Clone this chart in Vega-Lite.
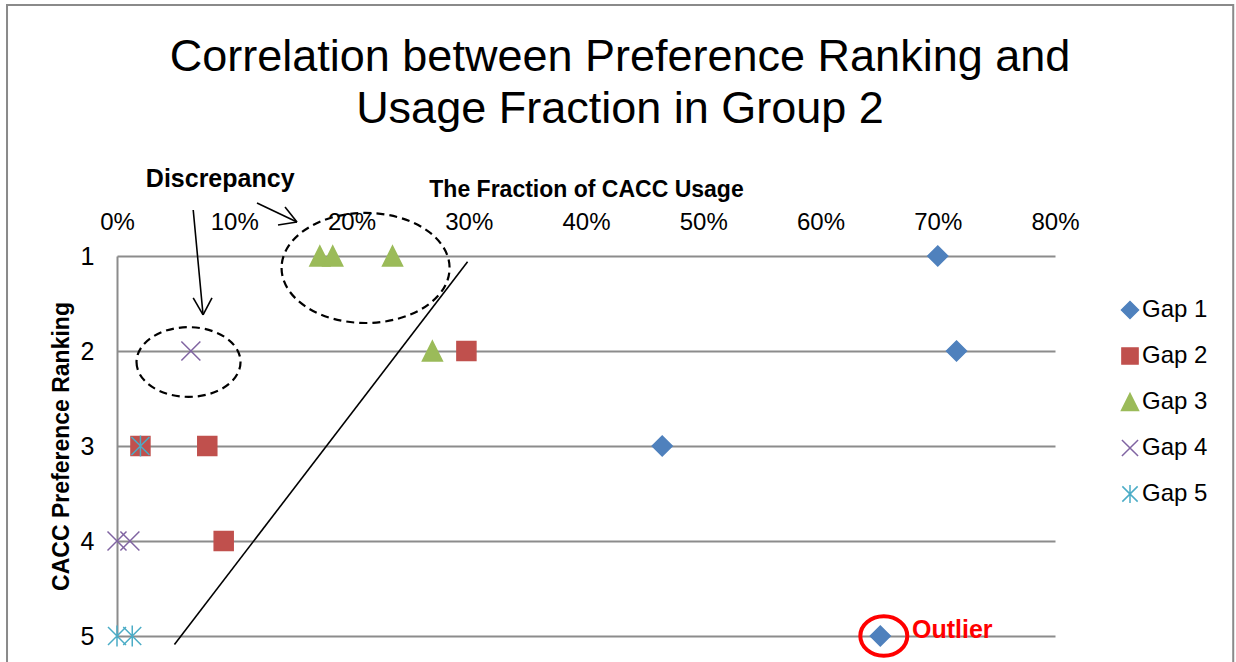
{
  "$schema": "https://vega.github.io/schema/vega-lite/v6.json",
  "width": 938,
  "height": 380,
  "autosize": "none",
  "padding": {"left": 117, "top": 256, "right": 181, "bottom": 26},
  "background": "white",
  "title": {
    "text": ["Correlation between Preference Ranking and", "Usage Fraction in Group 2"],
    "font": "Liberation Sans",
    "fontSize": 45,
    "fontWeight": "normal",
    "color": "black",
    "anchor": "middle",
    "baseline": "bottom",
    "dx": 34,
    "offset": -173,
    "lineHeight": 52
  },
  "config": {
    "view": {"stroke": null},
    "font": "Liberation Sans"
  },
  "datasets": {
    "points": [
      {"gap": "Gap 1", "fraction": 0.70, "rank": 1},
      {"gap": "Gap 1", "fraction": 0.716, "rank": 2},
      {"gap": "Gap 1", "fraction": 0.465, "rank": 3},
      {"gap": "Gap 1", "fraction": 0.651, "rank": 5},
      {"gap": "Gap 2", "fraction": 0.298, "rank": 2},
      {"gap": "Gap 2", "fraction": 0.020, "rank": 3},
      {"gap": "Gap 2", "fraction": 0.077, "rank": 3},
      {"gap": "Gap 2", "fraction": 0.091, "rank": 4},
      {"gap": "Gap 3", "fraction": 0.173, "rank": 1},
      {"gap": "Gap 3", "fraction": 0.184, "rank": 1},
      {"gap": "Gap 3", "fraction": 0.235, "rank": 1},
      {"gap": "Gap 3", "fraction": 0.269, "rank": 2},
      {"gap": "Gap 4", "fraction": 0.063, "rank": 2},
      {"gap": "Gap 4", "fraction": 0.000, "rank": 4},
      {"gap": "Gap 4", "fraction": 0.011, "rank": 4},
      {"gap": "Gap 5", "fraction": 0.020, "rank": 3},
      {"gap": "Gap 5", "fraction": 0.000, "rank": 5},
      {"gap": "Gap 5", "fraction": 0.013, "rank": 5}
    ],
    "frame": [{"x1": -0.0938, "x2": 0.952, "y1": -1.642, "y2": 5.6}],
    "trend": [{"x1": 0.049, "y1": 5.09, "x2": 0.299, "y2": 1.06}],
    "arrows": [
      {"x1": 0.065, "y1": 0.516, "x2": 0.0734, "y2": 1.62},
      {"x1": 0.0734, "y1": 1.62, "x2": 0.065, "y2": 1.44},
      {"x1": 0.0734, "y1": 1.62, "x2": 0.081, "y2": 1.44},
      {"x1": 0.1194, "y1": 0.442, "x2": 0.1535, "y2": 0.642},
      {"x1": 0.1535, "y1": 0.642, "x2": 0.1433, "y2": 0.484},
      {"x1": 0.1535, "y1": 0.642, "x2": 0.1373, "y2": 0.674}
    ],
    "bigEllipse": [{"fraction": 0.212, "rank": 1.126}],
    "smallEllipse": [{"fraction": 0.061, "rank": 2.116}],
    "outlierCircle": [{"fraction": 0.654, "rank": 5.0}],
    "discrepancy": [{"fraction": 0.088, "rank": 0.19, "label": "Discrepancy"}],
    "outlierText": [{"fraction": 0.678, "rank": 4.94, "label": "Outlier"}]
  },
  "layer": [
    {
      "data": {"name": "frame"},
      "mark": {"type": "rect", "fill": null, "stroke": "#8a8a8a", "strokeWidth": 2, "clip": false},
      "encoding": {
        "x": {"field": "x1", "type": "quantitative", "scale": {"domain": [0, 0.8], "nice": false, "zero": false}},
        "x2": {"field": "x2"},
        "y": {"field": "y1", "type": "quantitative", "scale": {"domain": [1, 5], "reverse": true, "nice": false, "zero": false}},
        "y2": {"field": "y2"}
      }
    },
    {
      "data": {"name": "points"},
      "mark": {"type": "point", "filled": true, "opacity": 1, "size": 400, "strokeWidth": 1.5},
      "encoding": {
        "x": {
          "field": "fraction", "type": "quantitative",
          "scale": {"domain": [0, 0.8], "nice": false, "zero": false},
          "axis": {
            "orient": "top", "format": ".0%", "values": [0, 0.1, 0.2, 0.3, 0.4, 0.5, 0.6, 0.7, 0.8],
            "grid": false, "domain": false, "ticks": false, "labelFlush": false,
            "labelFontSize": 24, "labelColor": "black", "labelPadding": 22,
            "title": "The Fraction of CACC Usage", "titleFontSize": 23, "titleFontWeight": "bold",
            "titleColor": "black", "titlePadding": 9
          }
        },
        "y": {
          "field": "rank", "type": "quantitative",
          "scale": {"domain": [1, 5], "reverse": true, "nice": false, "zero": false},
          "axis": {
            "values": [1, 2, 3, 4, 5], "format": "d",
            "grid": true, "gridColor": "#8c8c8c", "gridWidth": 2,
            "domain": true, "domainColor": "#8c8c8c", "domainWidth": 2,
            "ticks": false, "labelFlush": false,
            "labelFontSize": 25, "labelColor": "black", "labelPadding": 23,
            "title": "CACC Preference Ranking", "titleFontSize": 23, "titleFontWeight": "bold",
            "titleColor": "black", "titlePadding": 7
          }
        },
        "shape": {
          "field": "gap", "type": "nominal",
          "scale": {
            "domain": ["Gap 1", "Gap 2", "Gap 3", "Gap 4", "Gap 5"],
            "range": [
              "M0,-1L1,0L0,1L-1,0Z",
              "M-0.95,-0.95L0.95,-0.95L0.95,0.95L-0.95,0.95Z",
              "M0,-1L1,1L-1,1Z",
              "M-0.95,-0.95L0.95,0.95M-0.95,0.95L0.95,-0.95",
              "M-0.9,-0.9L0.9,0.9M-0.9,0.9L0.9,-0.9M0,-1.05L0,1.05"
            ]
          },
          "legend": {
            "orient": "none", "legendX": 1001, "legendY": 42, "title": null, "padding": 0,
            "symbolSize": 289, "symbolStrokeWidth": 1.5, "labelFontSize": 24, "labelColor": "black",
            "rowPadding": 22, "labelOffset": 0
          }
        },
        "fill": {
          "field": "gap", "type": "nominal",
          "scale": {
            "domain": ["Gap 1", "Gap 2", "Gap 3", "Gap 4", "Gap 5"],
            "range": ["#4F81BD", "#C0504D", "#9BBB59", "transparent", "transparent"]
          },
          "legend": {
            "orient": "none", "legendX": 1001, "legendY": 42, "title": null, "padding": 0,
            "symbolSize": 289, "symbolStrokeWidth": 1.5, "labelFontSize": 24, "labelColor": "black",
            "rowPadding": 22, "labelOffset": 0
          }
        },
        "stroke": {
          "field": "gap", "type": "nominal",
          "scale": {
            "domain": ["Gap 1", "Gap 2", "Gap 3", "Gap 4", "Gap 5"],
            "range": ["#4F81BD", "#C0504D", "#9BBB59", "#8064A2", "#4BACC6"]
          },
          "legend": {
            "orient": "none", "legendX": 1001, "legendY": 42, "title": null, "padding": 0,
            "symbolSize": 289, "symbolStrokeWidth": 1.5, "labelFontSize": 24, "labelColor": "black",
            "rowPadding": 22, "labelOffset": 0
          }
        }
      }
    },
    {
      "data": {"name": "trend"},
      "mark": {"type": "rule", "color": "black", "strokeWidth": 1.6},
      "encoding": {
        "x": {"field": "x1", "type": "quantitative"},
        "x2": {"field": "x2"},
        "y": {"field": "y1", "type": "quantitative"},
        "y2": {"field": "y2"}
      }
    },
    {
      "data": {"name": "arrows"},
      "mark": {"type": "rule", "color": "black", "strokeWidth": 1.6},
      "encoding": {
        "x": {"field": "x1", "type": "quantitative"},
        "x2": {"field": "x2"},
        "y": {"field": "y1", "type": "quantitative"},
        "y2": {"field": "y2"}
      }
    },
    {
      "data": {"name": "bigEllipse"},
      "mark": {"type": "point", "filled": false, "opacity": 1, "shape": "M-1,0A1,0.655,0,1,0,1,0A1,0.655,0,1,0,-1,0Z", "size": 28224, "stroke": "black", "strokeWidth": 2.2, "strokeDash": [8, 5]},
      "encoding": {
        "x": {"field": "fraction", "type": "quantitative"},
        "y": {"field": "rank", "type": "quantitative"}
      }
    },
    {
      "data": {"name": "smallEllipse"},
      "mark": {"type": "point", "filled": false, "opacity": 1, "shape": "M-1,0A1,0.67,0,1,0,1,0A1,0.67,0,1,0,-1,0Z", "size": 10816, "stroke": "black", "strokeWidth": 2.2, "strokeDash": [8, 5]},
      "encoding": {
        "x": {"field": "fraction", "type": "quantitative"},
        "y": {"field": "rank", "type": "quantitative"}
      }
    },
    {
      "data": {"name": "outlierCircle"},
      "mark": {"type": "point", "filled": false, "opacity": 1, "shape": "M-1,0A1,0.84,0,1,0,1,0A1,0.84,0,1,0,-1,0Z", "size": 2209, "stroke": "#FF0000", "strokeWidth": 4},
      "encoding": {
        "x": {"field": "fraction", "type": "quantitative"},
        "y": {"field": "rank", "type": "quantitative"}
      }
    },
    {
      "data": {"name": "discrepancy"},
      "mark": {"type": "text", "fontSize": 25, "fontWeight": "bold", "color": "black", "align": "center", "baseline": "middle"},
      "encoding": {
        "x": {"field": "fraction", "type": "quantitative"},
        "y": {"field": "rank", "type": "quantitative"},
        "text": {"field": "label"}
      }
    },
    {
      "data": {"name": "outlierText"},
      "mark": {"type": "text", "fontSize": 25, "fontWeight": "bold", "color": "#FF0000", "align": "left", "baseline": "middle"},
      "encoding": {
        "x": {"field": "fraction", "type": "quantitative"},
        "y": {"field": "rank", "type": "quantitative"},
        "text": {"field": "label"}
      }
    }
  ]
}
